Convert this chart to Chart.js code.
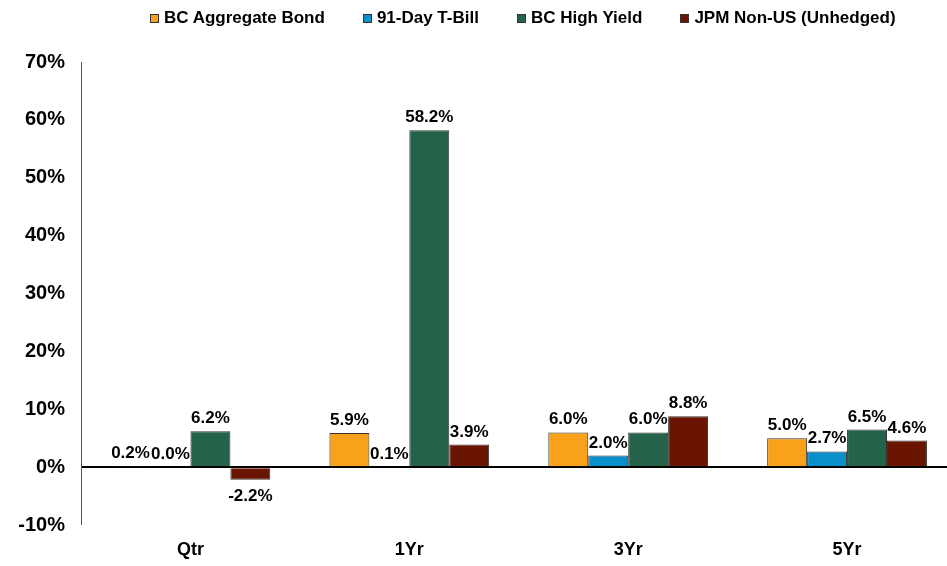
<!DOCTYPE html>
<html>
<head>
<meta charset="utf-8">
<script src="https://cdn.jsdelivr.net/npm/chart.js@4.4.1/dist/chart.umd.min.js"></script>
<style>
  html, body { margin: 0; padding: 0; background: #fff; }
  #wrap { position: relative; width: 947px; height: 566px; overflow: hidden; }
  #chart { position: absolute; left: 0; top: 0; }
  #legend {
    position: absolute; left: 150px; top: 8px;
    display: flex; gap: 38px; align-items: center;
    font: bold 17px "Liberation Sans", Arial, sans-serif; color: #000;
  }
  #legend .item { display: flex; align-items: center; white-space: nowrap; }
  #legend .box { width: 7px; height: 7px; border: 1px solid #333; margin-right: 5px; }
</style>
</head>
<body>
<div id="wrap">
  <canvas id="chart" width="958" height="566"></canvas>
  <div id="legend"></div>
</div>
<script>
/* ===================== DATA ===================== */

const periods = ["Qtr", "1Yr", "3Yr", "5Yr"];

const seriesNames = ["BC Aggregate Bond", "91-Day T-Bill", "BC High Yield", "JPM Non-US (Unhedged)"];
const seriesColors = ["#F9A11B", "#0A8FCA", "#25624A", "#6A1500"];

const aggBond   = [0.2, 5.9, 6.0, 5.0];
const tBill     = [0.0, 0.1, 2.0, 2.7];
const highYield = [6.2, 58.2, 6.0, 6.5];
const nonUS     = [-2.2, 3.9, 8.8, 4.6];

const yTicks = [-10, 0, 10, 20, 30, 40, 50, 60, 70];

const FONT = '"Liberation Sans", Arial, sans-serif';

/* ===================== LEGEND (html) ===================== */

const legendEl = document.getElementById("legend");
seriesNames.forEach((name, i) => {
  const item = document.createElement("div");
  item.className = "item";
  const box = document.createElement("span");
  box.className = "box";
  box.style.background = seriesColors[i];
  item.appendChild(box);
  item.appendChild(document.createTextNode(name));
  legendEl.appendChild(item);
});

/* ===================== VALUE LABELS ===================== */

const valueLabels = {
  id: "valueLabels",
  afterDatasetsDraw(chart) {
    const ctx = chart.ctx;
    ctx.save();
    ctx.font = "bold 17px " + FONT;
    ctx.fillStyle = "#000";
    ctx.textAlign = "center";
    chart.data.datasets.forEach((ds, i) => {
      chart.getDatasetMeta(i).data.forEach((bar, j) => {
        const v = ds.data[j];
        const txt = v.toFixed(1) + "%";
        if (v >= 0) {
          ctx.textBaseline = "alphabetic";
          ctx.fillText(txt, bar.x, bar.y - 8);
        } else {
          ctx.textBaseline = "top";
          ctx.fillText(txt, bar.x, bar.y + 8);
        }
      });
    });
    ctx.restore();
  }
};

/* ===================== CHART ===================== */

const allSeries = [aggBond, tBill, highYield, nonUS];

new Chart(document.getElementById("chart"), {
  type: "bar",
  data: {
    labels: periods,
    datasets: allSeries.map((vals, i) => ({
      label: seriesNames[i],
      data: vals,
      backgroundColor: seriesColors[i],
      borderColor: "#333",
      borderWidth: 1,
      categoryPercentage: 0.73,
      barPercentage: 1.0
    }))
  },
  options: {
    responsive: false,
    animation: false,
    devicePixelRatio: 1,
    layout: { padding: { top: 62, right: 1.5, bottom: 0, left: 0 } },
    plugins: {
      legend: { display: false },
      tooltip: { enabled: false }
    },
    scales: {
      x: {
        afterFit: s => { s.height = 41; },
        grid: { display: false, drawTicks: false },
        border: { display: false },
        ticks: {
          color: "#000",
          padding: 14,
          font: { family: FONT, size: 18, weight: "bold" }
        }
      },
      y: {
        min: yTicks[0],
        max: yTicks[yTicks.length - 1],
        afterBuildTicks: s => { s.ticks = yTicks.map(v => ({ value: v })); },
        afterFit: s => { s.width = 81; },
        grid: {
          drawTicks: false,
          color: c => (c.tick && c.tick.value === 0 ? "#000" : "rgba(0,0,0,0)"),
          lineWidth: c => (c.tick && c.tick.value === 0 ? 2 : 0)
        },
        border: { display: true, color: "#555", width: 1 },
        ticks: {
          color: "#000",
          padding: 16,
          callback: v => v + "%",
          font: { family: FONT, size: 20, weight: "bold" }
        }
      }
    }
  },
  plugins: [valueLabels]
});
</script>
</body>
</html>
